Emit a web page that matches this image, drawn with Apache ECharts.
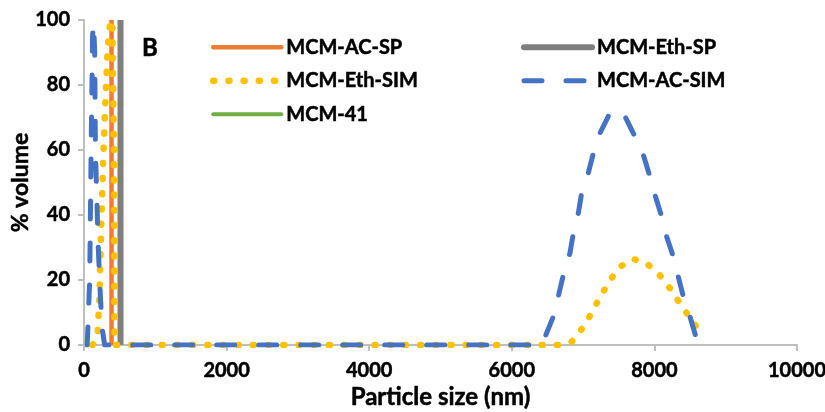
<!DOCTYPE html>
<html>
<head>
<meta charset="utf-8">
<script src="https://cdn.jsdelivr.net/npm/echarts@6/dist/echarts.min.js"></script>
<style>
  html, body { margin: 0; padding: 0; background: #fff; }
  #chart { width: 825px; height: 412px; }
</style>
</head>
<body>
<div id="chart"></div>
<script>
// Particle size distributions (size in nm, % volume)
const xTicks = [0, 2000, 4000, 6000, 8000, 10000];
const yTicks = [0, 20, 40, 60, 80, 100];

const mcm41 = [[512, 0], [512, 100]];
const mcmAcSp = [[386, 0], [386, 100]];
const mcmEthSp = [[512, 0], [512, 100]];
const mcmEthSim = [
  [120, 0], [190, 3], [215, 14], [238, 34], [266, 55], [295, 72], [325, 88],
  [350, 97], [375, 99], [395, 100], [420, 60], [428, 0],
  [6666, 0], [6840, 1], [6970, 4.6], [7083, 8.5], [7185, 12.6], [7288, 16.6],
  [7395, 20.5], [7522, 24.1], [7700, 26.5], [7891, 25.1], [8055, 22],
  [8186, 18.5], [8303, 14.6], [8415, 11], [8537, 7.2], [8658, 3.4]
];
const mcmAcSim = [
  [45, 0], [80, 20], [100, 60], [120, 95], [135, 99], [150, 90], [160, 60],
  [180, 45], [200, 30], [230, 15], [255, 5], [290, 0],
  [6420, 0], [6582, 8.7], [6652, 14.9], [6722, 21.5], [6816, 28.3],
  [6863, 34.4], [6933, 40.6], [6980, 46.8], [7073, 52.9], [7143, 59],
  [7237, 65.2], [7377, 71.4], [7471, 72.5], [7588, 70.3], [7728, 64.1],
  [7845, 58.5], [7938, 51.8], [8008, 46.2], [8102, 39.5], [8172, 33.3],
  [8265, 27.2], [8335, 21], [8405, 14.9], [8499, 8.7], [8616, 0]
];

const FONT = 'Lato, "Open Sans", sans-serif';

// line appearance per series, shared by plot and legend
const styles = {
  'MCM-41':      { color: '#70ad47', width: 4,   type: 'solid',   cap: 'round' },
  'MCM-AC-SP':   { color: '#ed7d31', width: 4.5, type: 'solid',   cap: 'round' },
  'MCM-Eth-SP':  { color: '#7f7f7f', width: 6,   type: 'solid',   cap: 'round' },
  'MCM-Eth-SIM': { color: '#ffc000', width: 6.5, type: [1, 14.2], cap: 'round' },
  'MCM-AC-SIM':  { color: '#4472c4', width: 5,   type: [18, 24],  cap: 'round' }
};

const chart = echarts.init(document.getElementById('chart'), null, { renderer: 'canvas' });

function lineSeries(name, data) {
  const s = styles[name];
  const dashed = Array.isArray(s.type);
  return {
    name: name,
    type: 'line',
    data: data,
    symbol: 'none',
    showSymbol: false,
    smooth: false,
    animation: false,
    lineStyle: { color: s.color, width: s.width, type: s.type, cap: dashed ? 'round' : 'butt', join: 'round' },
    itemStyle: { color: s.color },
    emphasis: { disabled: true }
  };
}

function legendItem(name) {
  const s = styles[name];
  return {
    name: name,
    itemStyle: { opacity: 0 },
    lineStyle: { color: s.color, width: s.width, type: s.type, cap: s.cap }
  };
}

const boldText = { fontFamily: FONT, fontWeight: 'bold', color: '#000', textBorderColor: '#000', textBorderWidth: 0.5 };
const legendText = Object.assign({ fontSize: 20, lineHeight: 20 }, boldText);

chart.setOption({
  animation: false,
  backgroundColor: '#fff',
  grid: { left: 84, right: 28, top: 20, bottom: 67, containLabel: false, outerBoundsMode: 'none' },
  title: {
    text: 'B',
    left: 137, top: 31,
    textStyle: Object.assign({ fontSize: 24 }, boldText)
  },
  legend: [
    {
      data: ['MCM-AC-SP', 'MCM-Eth-SIM', 'MCM-41'].map(legendItem),
      orient: 'vertical', left: 210, top: 37, padding: 0,
      itemWidth: 68, itemHeight: 14, itemGap: 13,
      textStyle: legendText, selectedMode: false
    },
    {
      data: ['MCM-Eth-SP', 'MCM-AC-SIM'].map(legendItem),
      orient: 'vertical', left: 521, top: 37, padding: 0,
      itemWidth: 68, itemHeight: 14, itemGap: 13,
      textStyle: legendText, selectedMode: false
    }
  ],
  xAxis: {
    type: 'value', min: xTicks[0], max: xTicks[xTicks.length - 1], interval: 2000,
    name: 'Particle size (nm)', nameLocation: 'middle', nameGap: 40, nameMoveOverlap: false,
    nameTextStyle: Object.assign({ fontSize: 24 }, boldText),
    axisLine: { show: true, lineStyle: { color: '#bfbfbf', width: 2 } },
    axisTick: { show: true, length: 6, lineStyle: { color: '#bfbfbf', width: 2 } },
    axisLabel: Object.assign({ margin: 16, fontSize: 20, formatter: v => String(v) }, boldText),
    splitLine: { show: false }
  },
  yAxis: {
    type: 'value', min: yTicks[0], max: yTicks[yTicks.length - 1], interval: 20,
    name: '% volume', nameLocation: 'middle', nameGap: 52, nameMoveOverlap: false,
    nameTextStyle: Object.assign({ fontSize: 23 }, boldText),
    axisLine: { show: true, lineStyle: { color: '#bfbfbf', width: 2 } },
    axisTick: { show: true, length: 6, lineStyle: { color: '#bfbfbf', width: 2 } },
    axisLabel: Object.assign({ margin: 14, fontSize: 20, formatter: v => String(v) }, boldText),
    splitLine: { show: false }
  },
  series: [
    lineSeries('MCM-41', mcm41),
    lineSeries('MCM-AC-SP', mcmAcSp),
    lineSeries('MCM-Eth-SP', mcmEthSp),
    lineSeries('MCM-Eth-SIM', mcmEthSim),
    lineSeries('MCM-AC-SIM', mcmAcSim)
  ]
});
</script>
</body>
</html>
